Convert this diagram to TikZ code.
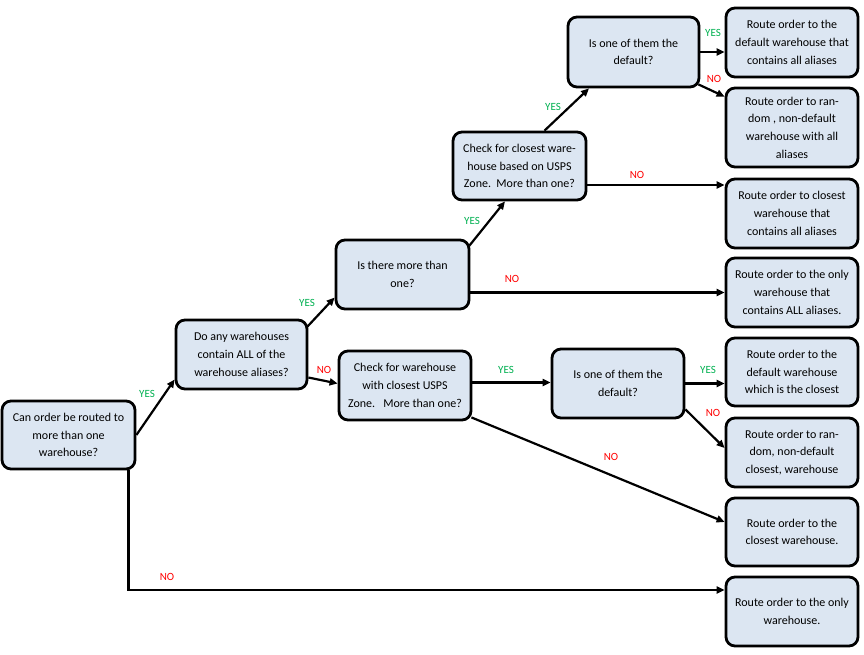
\documentclass[tikz,border=0pt]{standalone}
\usepackage{fontspec}
\setmainfont{Carlito}
\usetikzlibrary{calc,arrows.meta}
\definecolor{boxfill}{RGB}{220,230,242}
\definecolor{yesgreen}{RGB}{0,176,80}
\definecolor{nored}{RGB}{255,0,0}
\tikzset{
  box/.style={draw=black, line width=2.8pt, rounded corners=9pt, fill=boxfill,
    align=center, inner sep=0pt, font=\fontsize{12}{17.7}\selectfont},
  arr/.style={line width=2.2pt, -{Triangle[length=8pt,width=7pt]}},
  yes/.style={text=yesgreen, font=\fontsize{11}{12}\selectfont, inner sep=0pt},
  no/.style={text=nored, font=\fontsize{11}{12}\selectfont, inner sep=0pt},
}
\newcommand{\bx}[6]{\node[box, minimum width=#4pt, minimum height=#5pt] (#1) at (#2,#3) {#6};}
\begin{document}
\begin{tikzpicture}[x=1pt,y=-1pt]
\useasboundingbox (0,0) rectangle (864,654);
% boxes
\bx{A}{68.5}{435}{133}{68}{Can order be routed to\\more than one\\warehouse?}
\bx{B}{241.5}{354.5}{131}{69}{Do any warehouses\\contain ALL of the\\warehouse aliases?}
\bx{C}{402.5}{274.5}{133}{69}{Is there more than\\one?}
\bx{D}{519.5}{166}{133}{68}{Check for closest ware-\\house based on USPS\\Zone.\ \ More than one?}
\bx{E}{633.5}{52}{131}{70}{Is one of them the\\default?}
\bx{F1}{792}{42.5}{132}{69}{Route order to the\\default warehouse that\\contains all aliases}
\bx{F2}{792}{127.5}{132}{79}{Route order to ran-\\dom , non-default\\warehouse with all\\aliases}
\bx{F3}{792}{213.5}{132}{69}{Route order to closest\\warehouse that\\contains all aliases}
\bx{F4}{792}{292.5}{132}{69}{Route order to the only\\warehouse that\\contains ALL aliases.}
\bx{G}{405}{385.5}{132}{69}{Check for warehouse\\with closest USPS\\Zone.\ \ \ More than one?}
\bx{H}{618}{383.5}{132}{69}{Is one of them the\\default?}
\bx{I1}{792}{372}{132}{68}{Route order to the\\default warehouse\\which is the closest}
\bx{I2}{792}{452.5}{132}{69}{Route order to ran-\\dom, non-default\\closest, warehouse}
\bx{I3}{792}{532}{132}{68}{Route order to the\\closest warehouse.}
\bx{I4}{792}{611.5}{132}{69}{Route order to the only\\warehouse.}
% helper coordinates
\coordinate (d3) at ($(D.east)+(0,19)$);
\coordinate (a4) at ($(I4.west)+(0,-21.5)$);
\coordinate (g1) at ($(G.east)+(0,-3)$);
% connectors
\draw[arr] (A.east) -- ($(B.west)+(0,25)$);
\draw[arr] ($(B.north east)+(-1,8)$) -- ($(C.west)+(0,23)$);
\draw[arr] ($(B.east)+(0,23)$) -- ($(G.west)+(0,-2)$);
\draw[arr] ($(C.north east)+(-1,7)$) -- ($(D.south)+(-14.5,0)$);
\draw[arr] (C.east |- F4.west) -- (F4.west);
\draw[arr] ($(D.north)+(25,0)$) -- ($(E.south)+(-44.5,0)$);
\draw[arr] (d3) -- (d3 -| F3.west);
\draw[arr] (E.east) -- (E.east -| F1.west);
\draw[arr] ($(E.south east)+(-2,-4)$) -- ($(F2.north west)+(0,10)$);
\draw[arr] (g1) -- (g1 -| H.west);
\draw[arr] ($(G.south east)+(-1,-4)$) -- ($(I3.west)+(0,-10)$);
\draw[arr] (H.east) -- (H.east -| I1.west);
\draw[arr] ($(H.south east)+(0,-10)$) -- ($(I2.west)+(0,-4.5)$);
\draw[arr] ($(A.south east)+(-8,0)$) |- (a4);
% labels
\node[yes] (l1) at (147,394) {YES};
\node[yes] (l2) at (307,303) {YES};
\node[no]  (l3) at (324,370) {NO};
\node[yes] (l4) at (472,221) {YES};
\node[no]  (l5) at (512,279) {NO};
\node[yes] (l6) at (553,107) {YES};
\node[no]  (l7) at (637,175) {NO};
\node[yes] (l8) at (713,33) {YES};
\node[no]  (l9) at (714,79) {NO};
\node[yes] (l10) at (506,370) {YES};
\node[no]  (l11) at (611,457) {NO};
\node[yes] (l12) at (708,370) {YES};
\node[no]  (l13) at (713,413) {NO};
\node[no]  (l14) at (167,577) {NO};
\end{tikzpicture}
\end{document}
